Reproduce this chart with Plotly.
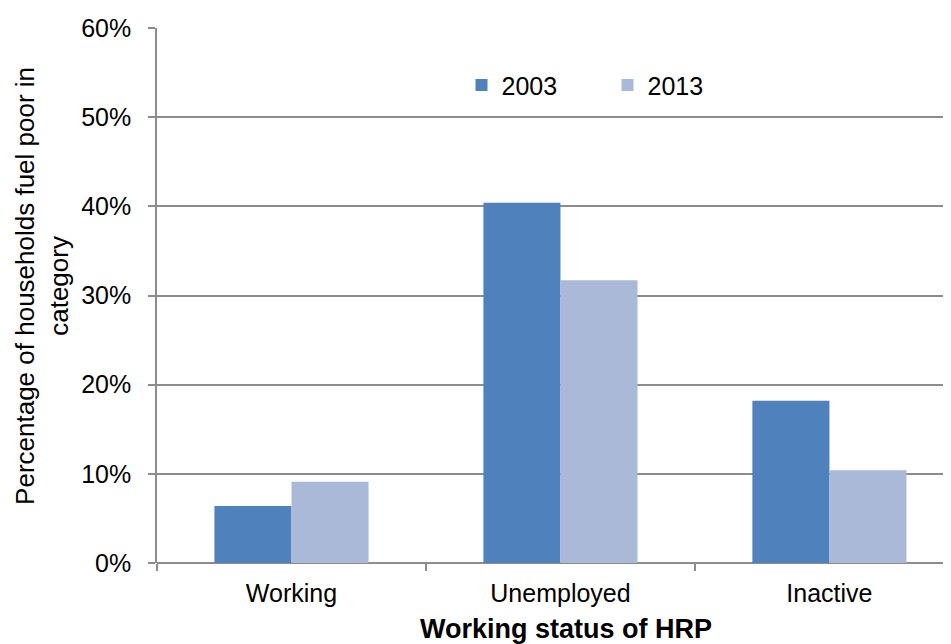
import plotly.graph_objects as go

categories = ["Working", "Unemployed", "Inactive"]
values_2003 = [0.064, 0.404, 0.182]
values_2013 = [0.091, 0.317, 0.104]
series_names = ["2003", "2013"]
colors = ["#4F81BD", "#AAB9D7"]

fig = go.Figure()
for name, vals, col in zip(series_names, [values_2003, values_2013], colors):
    fig.add_trace(go.Bar(x=categories, y=vals, name=name, marker_color=col,
                         marker_line_width=0))

grid = "#8c8c8c"
fig.update_layout(
    width=943, height=636,
    margin=dict(l=149, r=0, t=20, b=81),
    plot_bgcolor="white", paper_bgcolor="white",
    font=dict(family="Arial, Liberation Sans", size=25, color="black"),
    barmode="group", bargap=0.427, bargroupgap=0,
    legend=dict(orientation="h", x=0.3835, y=0.893, xanchor="left", yanchor="middle",
                font=dict(size=25), itemwidth=30, entrywidth=101,
                entrywidthmode="pixels", bgcolor="rgba(0,0,0,0)"),
    xaxis=dict(
        range=[-0.5, 2.452], showgrid=False, showline=False,
        ticks="outside", tickson="boundaries", ticklen=7, tickcolor=grid,
        tickwidth=1.5, ticklabelstandoff=13,
    ),
    yaxis=dict(
        range=[0, 0.6], dtick=0.1, tickformat=".0%",
        showgrid=True, gridcolor=grid, gridwidth=1.5,
        showline=True, linecolor=grid, linewidth=1.5,
        ticks="outside", ticklen=7, tickcolor=grid, tickwidth=1.5,
        zeroline=True, zerolinecolor=grid, zerolinewidth=1.5,
        ticklabelstandoff=12,
    ),
    annotations=[
        dict(text="<b>Working status of HRP</b>", xref="paper", yref="paper",
             x=0.515, y=-0.1235, xanchor="center", yanchor="middle",
             showarrow=False, font=dict(size=27)),
        dict(text="Percentage of households fuel poor in<br>category",
             xref="paper", yref="paper", x=-0.1448, y=0.518,
             xanchor="center", yanchor="middle", textangle=-90,
             showarrow=False, font=dict(size=26)),
    ],
)

fig.write_html("out.html")
